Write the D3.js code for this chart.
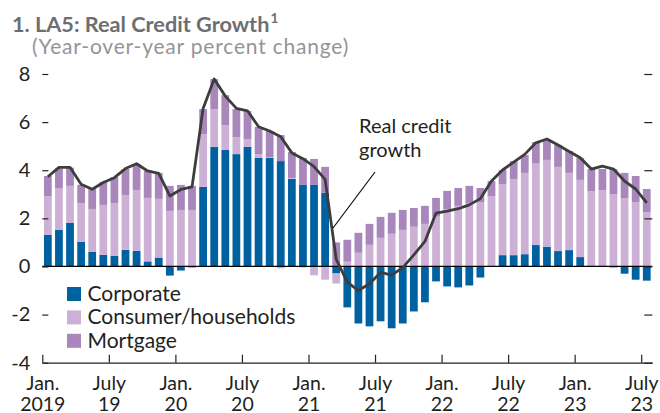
<!DOCTYPE html>
<html>
<head>
<meta charset="utf-8">
<script src="https://cdn.jsdelivr.net/npm/d3@7"></script>
<style>
  html, body { margin: 0; padding: 0; background: #fff; }
  svg { display: block; font-family: Lato, "Noto Sans", sans-serif; }
</style>
</head>
<body>
<svg id="chart" width="660" height="413"></svg>
<script>
// ---- Data (monthly, Jan 2019 – Jul 2023) ----
const months = [];
for (let yr = 2019; yr <= 2023; yr++) {
  for (let m = 1; m <= 12; m++) {
    if (yr === 2023 && m > 7) break;
    months.push(yr + "-" + String(m).padStart(2, "0"));
  }
}

const corporate = [1.31,1.52,1.81,1.02,0.61,0.48,0.44,0.69,0.65,0.21,0.37,-0.38,
  -0.17,-0.04,3.31,4.97,4.84,4.67,4.97,4.51,4.51,4.38,3.64,3.39,
  3.39,3.06,-0.29,-1.70,-2.37,-2.49,-2.28,-2.57,-2.37,-1.87,-1.49,-0.62,
  -0.83,-0.87,-0.79,-0.46,0.00,0.47,0.47,0.51,0.89,0.82,0.64,0.68,
  0.39,0.00,0.04,-0.04,-0.30,-0.55,-0.59];

const consumer = [1.62,1.74,1.54,1.62,1.78,2.08,2.20,2.28,2.53,2.64,2.44,2.31,
  2.35,2.35,2.19,1.57,1.04,0.71,0.33,0.16,0.04,-0.08,0.04,-0.04,
  -0.37,-0.55,-0.42,0.20,0.57,0.90,1.19,1.36,1.52,1.65,1.77,2.07,
  2.39,2.52,2.64,2.68,2.93,2.95,3.16,3.38,3.41,3.61,3.50,3.21,
  3.21,3.13,3.13,3.00,2.84,2.67,2.25];

const mortgage = [0.83,0.82,0.76,0.75,0.83,0.94,1.07,1.08,1.08,1.12,1.08,1.04,
  1.04,1.00,1.04,1.25,1.24,1.16,1.16,1.13,1.08,1.08,1.08,1.12,
  1.08,1.08,1.00,0.91,0.83,0.87,0.87,0.87,0.83,0.78,0.75,0.78,
  0.75,0.74,0.71,0.58,0.62,0.59,0.75,0.74,0.87,0.87,0.91,0.91,
  0.91,0.92,0.88,1.05,1.05,1.09,0.97];

const realCreditGrowth = [3.73,4.12,4.12,3.42,3.21,3.49,3.69,4.07,4.27,3.97,3.87,2.93,
  3.20,3.31,6.57,7.79,7.08,6.57,6.47,5.81,5.63,5.39,4.72,4.48,
  4.15,3.62,0.30,-0.65,-1.00,-0.72,-0.25,-0.36,-0.05,0.48,1.04,2.22,
  2.30,2.40,2.56,2.82,3.55,4.01,4.34,4.66,5.14,5.30,5.05,4.78,
  4.52,4.05,4.17,4.05,3.55,3.22,2.64];

const seriesKeys = ["Corporate", "Consumer/households", "Mortgage"];
const seriesColors = ["#0061a1", "#cdb0d6", "#a986bc"];

const yTicks = [-4, -2, 0, 2, 4, 6, 8];
const xTickMonths = ["2019-01","2019-07","2020-01","2020-07","2021-01","2021-07","2022-01","2022-07","2023-01","2023-07"];
const xTickLine1 = ["Jan.","July","Jan.","July","Jan.","July","Jan.","July","Jan.","July"];
const xTickLine2 = ["2019","19","20","20","21","21","22","22","23","23"];

const titleText = "1. LA5: Real Credit Growth";
const subtitleText = "(Year-over-year percent change)";

// ---- Build table ----
const table = months.map((m, i) => ({
  month: m,
  "Corporate": corporate[i],
  "Consumer/households": consumer[i],
  "Mortgage": mortgage[i]
}));

// ---- Layout ----
const svg = d3.select("#chart");
const plotL = 42.3, plotR = 652.3, plotT = 74, plotB = 362.7;
const FONT = "Lato, 'Noto Sans', sans-serif";

const x = d3.scaleBand().domain(months).range([plotL, plotR])
  .paddingInner(0.3).paddingOuter(0.15);
const xEdge = d3.scaleLinear().domain([0, months.length]).range([plotL, plotR]);
const y = d3.scaleLinear().domain([-4, 8]).range([plotB, plotT]);
const color = d3.scaleOrdinal().domain(seriesKeys).range(seriesColors);

const stack = d3.stack().keys(seriesKeys).offset(d3.stackOffsetDiverging);
const stacked = stack(table);

// Bars
svg.append("g").selectAll("g").data(stacked).join("g")
  .attr("fill", d => color(d.key))
  .selectAll("rect").data(d => d).join("rect")
  .attr("x", d => x(d.data.month))
  .attr("width", x.bandwidth())
  .attr("y", d => y(Math.max(d[0], d[1])))
  .attr("height", d => Math.abs(y(d[0]) - y(d[1])));

// Zero line
svg.append("line")
  .attr("x1", plotL).attr("x2", plotR)
  .attr("y1", y(0)).attr("y2", y(0))
  .attr("stroke", "#000").attr("stroke-width", 1.3);

// Left y axis
const yAxisL = d3.axisLeft(y).tickValues(yTicks).tickSize(6).tickPadding(12)
  .tickFormat(d => String(d));
const gyl = svg.append("g").attr("transform", `translate(${plotL + 6},0)`).call(yAxisL);
gyl.select(".domain").remove();
gyl.selectAll(".tick line").attr("stroke", "#222").attr("stroke-width", 1.2);
gyl.selectAll(".tick text").attr("font-size", 20).attr("fill", "#231f20")
  .attr("font-family", FONT);

// Right y axis ticks
const yAxisR = d3.axisLeft(y).tickValues(yTicks).tickSize(8).tickFormat("");
const gyr = svg.append("g").attr("transform", `translate(${plotR},0)`).call(yAxisR);
gyr.select(".domain").remove();
gyr.selectAll(".tick line").attr("stroke", "#222").attr("stroke-width", 1.2);

// Bottom x axis
const xTickIdx = xTickMonths.map(m => months.indexOf(m));
const xAxis = d3.axisBottom(xEdge).tickValues(xTickIdx).tickSize(-8).tickSizeOuter(0).tickFormat("");
const gx = svg.append("g").attr("transform", `translate(0,${plotB})`).call(xAxis);
gx.select(".domain").attr("stroke", "#222").attr("stroke-width", 1.3);
gx.selectAll(".tick line").attr("stroke", "#222").attr("stroke-width", 1.2);
gx.selectAll(".tick").append("text")
  .attr("y", 27.5).attr("text-anchor", "middle").attr("fill", "#231f20")
  .attr("font-size", 19.5).attr("font-family", FONT)
  .text((d, i) => xTickLine1[i]);
gx.selectAll(".tick").append("text")
  .attr("y", 48.5).attr("text-anchor", "middle").attr("fill", "#231f20")
  .attr("font-size", 19.5).attr("font-family", FONT)
  .text((d, i) => xTickLine2[i]);

// Real credit growth line
const line = d3.line()
  .x((d, i) => x(months[i]) + x.bandwidth() / 2)
  .y(d => y(d));
svg.append("path").datum(realCreditGrowth)
  .attr("d", line).attr("fill", "none")
  .attr("stroke", "#3d3d3d").attr("stroke-width", 2.8)
  .attr("stroke-linejoin", "round");

// Annotation
svg.append("line")
  .attr("x1", 375).attr("y1", 172).attr("x2", 333).attr("y2", 228)
  .attr("stroke", "#111").attr("stroke-width", 1.2);
svg.append("text").attr("x", 359).attr("y", 133)
  .attr("font-size", 20).attr("fill", "#231f20").text("Real credit");
svg.append("text").attr("x", 359).attr("y", 157)
  .attr("font-size", 20).attr("fill", "#231f20").text("growth");

// Legend
const legend = svg.append("g").attr("transform", "translate(67,287)");
seriesKeys.forEach((k, i) => {
  const g = legend.append("g").attr("transform", `translate(0,${i * 23.4})`);
  g.append("rect").attr("width", 14).attr("height", 14).attr("fill", color(k));
  g.append("text").attr("x", 20.5).attr("y", 14).attr("font-size", 21)
    .attr("fill", "#231f20").text(k);
});

// Title
const title = svg.append("text").attr("x", 12).attr("y", 31.7)
  .attr("font-size", 21.7).attr("font-weight", 700).attr("fill", "#6d6e71");
title.append("tspan").text(titleText);
title.append("tspan").attr("font-size", 13.5).attr("dy", -8.5).attr("dx", 1).text("1");
svg.append("text").attr("x", 32).attr("y", 54)
  .attr("font-size", 21).attr("letter-spacing", 0.8).attr("fill", "#939598").text(subtitleText);
</script>
</body>
</html>
